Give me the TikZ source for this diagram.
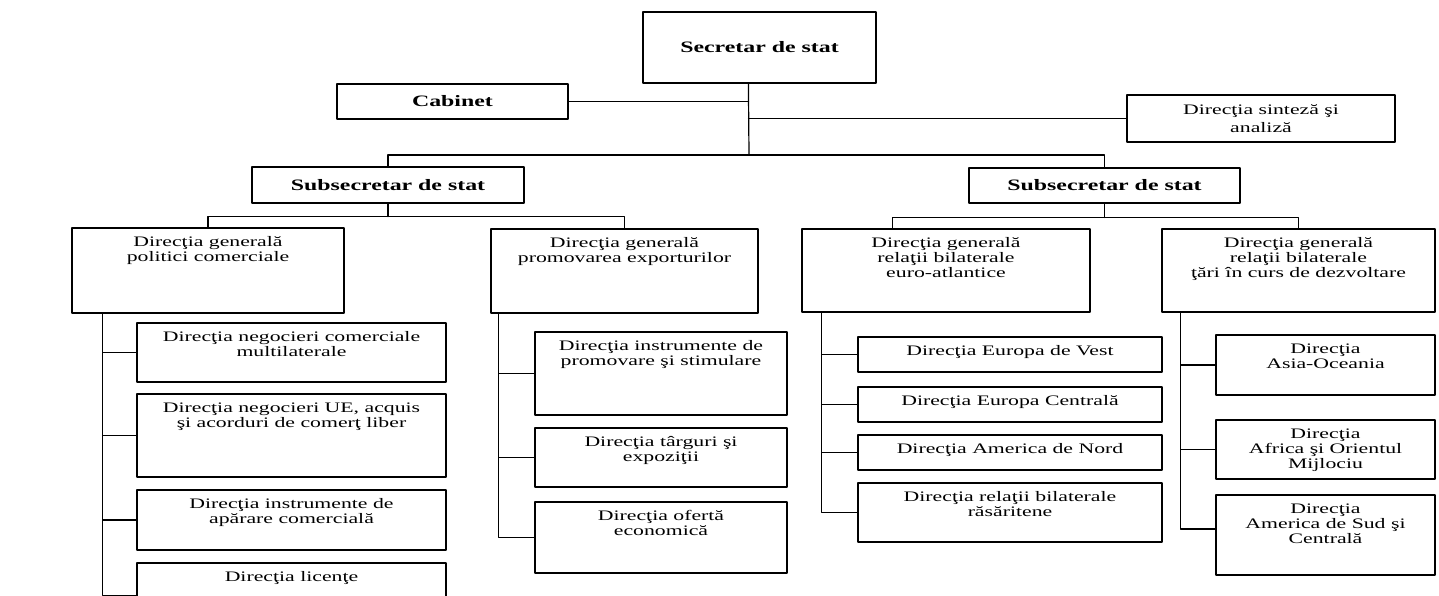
\documentclass[tikz,border=0pt]{standalone}
\usepackage{fontspec}
\setmainfont{Liberation Serif}[FakeStretch=1.5]
\usepackage{tikz}
\usetikzlibrary{positioning}

\tikzset{
  box/.style={draw, line width=1.2pt, inner sep=0pt},
  head/.style={box, font=\bfseries\fontsize{15.9}{17}\selectfont},
  txt/.style={align=center, inner sep=1pt, font=\fontsize{14.5}{15}\selectfont},
  link/.style={line width=1.2pt}
}

\begin{document}
\begin{tikzpicture}[line cap=round,line join=round, x=1pt,y=-1pt]
\clip (0,0) rectangle (1439,596);
% top level
\node (sec) [head, minimum width=233pt, minimum height=71pt] at (759.5,47.5) {Secretar de stat};
\node (cab) [head, minimum width=231pt, minimum height=35pt] at (452.5,101.5) {Cabinet};
\node (sin) [box, minimum width=268pt, minimum height=47pt] at (1261,118.5) {};
\node [txt, font=\fontsize{14.5}{18}\selectfont, below=9pt of sin.north] {Direcţia sinteză şi\\analiză};
\node (sub1) [head, minimum width=272pt, minimum height=36pt] at (388,185) {Subsecretar de stat};
\node (sub2) [head, minimum width=271pt, minimum height=35pt] at (1104.5,185.5) {Subsecretar de stat};
\coordinate (trunk) at ([xshift=106pt]sec.south west);
\coordinate (bar) at (749,155);
\draw [link] (trunk) -- (bar);
\draw [link] (cab.east) -- (cab.east -| trunk);
\draw [link] (sin.west) -- (sin.west -| trunk);
\draw [link] (bar) -| (sub1.north);
\draw [link] (bar) -| (sub2.north);

% general directorates
\node (dgpol) [box, minimum width=272pt, minimum height=85pt] at (208,270.5) {};
\node [txt, below=8pt of dgpol.north] {Direcţia generală\\politici comerciale};
\node (dgprom) [box, minimum width=267pt, minimum height=84pt] at (624.5,271) {};
\node [txt, below=8pt of dgprom.north] {Direcţia generală\\promovarea exporturilor};
\node (dgeuro) [box, minimum width=288pt, minimum height=83pt] at (946,270.5) {};
\node [txt, below=8pt of dgeuro.north] {Direcţia generală\\relaţii bilaterale\\euro-atlantice};
\node (dgtari) [box, minimum width=273pt, minimum height=83pt] at (1298.5,270.5) {};
\node [txt, below=8pt of dgtari.north] {Direcţia generală\\relaţii bilaterale\\ţări în curs de dezvoltare};
\draw [link] (sub1.south) -- ++(0,13) coordinate (bar1);
\draw [link] (bar1) -| (dgpol.north);
\draw [link] (bar1) -| (dgprom.north);
\draw [link] (sub2.south) -- ++(0,14) coordinate (bar2);
\draw [link] (bar2) -| ([xshift=91pt]dgeuro.north west);
\draw [link] (bar2) -| (dgtari.north);

% politici comerciale
\node (p1) [box, minimum width=309pt, minimum height=59pt] at (291.5,352.5) {};
\node [txt, below=8pt of p1.north] {Direcţia negocieri comerciale\\multilaterale};
\node (p2) [box, minimum width=309pt, minimum height=83pt] at (291.5,435.5) {};
\node [txt, below=8pt of p2.north] {Direcţia negocieri UE, acquis\\şi acorduri de comerţ liber};
\node (p3) [box, minimum width=309pt, minimum height=60pt] at (291.5,520) {};
\node [txt, below=8pt of p3.north] {Direcţia instrumente de\\apărare comercială};
\node (p4) [box, minimum width=309pt, minimum height=47pt] at (291.5,586.5) {};
\node [txt, below=8pt of p4.north] {Direcţia licenţe};
\coordinate (spol) at ([xshift=31pt]dgpol.south west);
\foreach \n in {p1,p2,p3} \draw [link] (spol) |- (\n.west);
\draw [link] (spol) |- ([yshift=-9pt]p4.west);

% promovarea exporturilor
\node (r1) [box, minimum width=252pt, minimum height=83pt] at (661,373.5) {};
\node [txt, below=8pt of r1.north] {Direcţia instrumente de\\promovare şi stimulare};
\node (r2) [box, minimum width=252pt, minimum height=59pt] at (661,457.5) {};
\node [txt, below=8pt of r2.north] {Direcţia târguri şi\\expoziţii};
\node (r3) [box, minimum width=252pt, minimum height=71pt] at (661,537.5) {};
\node [txt, below=8pt of r3.north] {Direcţia ofertă\\economică};
\coordinate (sprom) at ([xshift=8pt]dgprom.south west);
\foreach \n in {r1,r2,r3} \draw [link] (sprom) |- (\n.west);

% euro-atlantice
\node (e1) [box, minimum width=304pt, minimum height=35pt] at (1010,354.5) {};
\node [txt, below=8pt of e1.north] {Direcţia Europa de Vest};
\node (e2) [box, minimum width=304pt, minimum height=35pt] at (1010,404.5) {};
\node [txt, below=8pt of e2.north] {Direcţia Europa Centrală};
\node (e3) [box, minimum width=304pt, minimum height=35pt] at (1010,452.5) {};
\node [txt, below=8pt of e3.north] {Direcţia America de Nord};
\node (e4) [box, minimum width=304pt, minimum height=59pt] at (1010,512.5) {};
\node [txt, below=8pt of e4.north] {Direcţia relaţii bilaterale\\răsăritene};
\coordinate (seuro) at ([xshift=20pt]dgeuro.south west);
\foreach \n in {e1,e2,e3,e4} \draw [link] (seuro) |- (\n.west);

% tari in curs de dezvoltare
\node (t1) [box, minimum width=219pt, minimum height=60pt] at (1325.5,365) {};
\node [txt, below=8pt of t1.north] {Direcţia\\Asia-Oceania};
\node (t2) [box, minimum width=219pt, minimum height=59pt] at (1325.5,449.5) {};
\node [txt, below=8pt of t2.north] {Direcţia\\Africa şi Orientul\\Mijlociu};
\node (t3) [box, minimum width=219pt, minimum height=80pt] at (1325.5,535) {};
\node [txt, below=8pt of t3.north] {Direcţia\\America de Sud şi\\Centrală};
\coordinate (stari) at ([xshift=19pt]dgtari.south west);
\foreach \n in {t1,t2} \draw [link] (stari) |- (\n.west);
\draw [link] (stari) |- ([yshift=6pt]t3.west);
\end{tikzpicture}
\end{document}
